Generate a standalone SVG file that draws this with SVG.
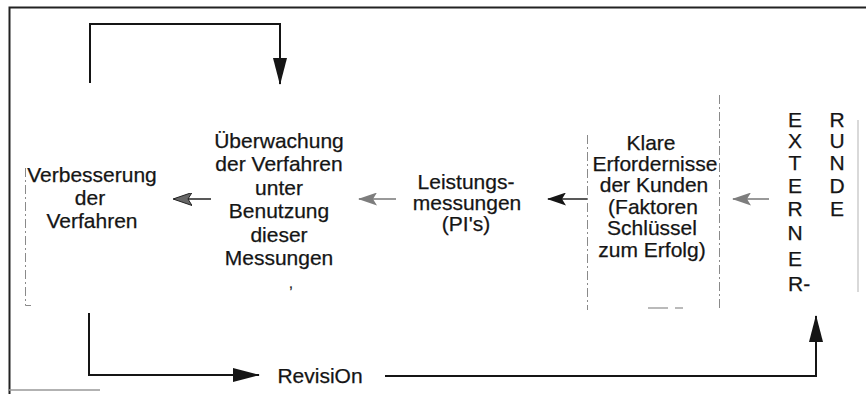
<svg xmlns="http://www.w3.org/2000/svg" width="866" height="396" viewBox="0 0 866 396">
<style>
.t{font-family:"Liberation Sans",Arial,Helvetica,sans-serif;font-size:21px;fill:#151515;stroke:#151515;stroke-width:0.25;text-anchor:middle}
.ln{fill:none;stroke:#151515;stroke-width:2}
.thin{fill:none;stroke:#222;stroke-width:1.6}
.gl{fill:none;stroke:#777;stroke-width:1.6}
.dash{fill:none;stroke:#8a8a8a;stroke-width:1;stroke-dasharray:9 3 2 3}
.frame{fill:none;stroke:#222;stroke-width:2}
</style>
<defs>
<marker id="big" markerUnits="userSpaceOnUse" viewBox="0 0 27 14" refX="26" refY="7" markerWidth="27" markerHeight="14" orient="auto"><path d="M0,0 L27,7 L0,14 Z" fill="#151515"/></marker>
<marker id="sb" markerUnits="userSpaceOnUse" viewBox="0 0 19 13" refX="18" refY="6.5" markerWidth="19" markerHeight="13" orient="auto"><path d="M0,0 L19,6.5 L0,13 L4,6.5 Z" fill="#151515"/></marker>
<marker id="sd" markerUnits="userSpaceOnUse" viewBox="0 0 19 13" refX="18" refY="6.5" markerWidth="19" markerHeight="13" orient="auto"><path d="M0,0 L19,6.5 L0,13 L4,6.5 Z" fill="#666" stroke="#222" stroke-width="1"/></marker>
<marker id="sg" markerUnits="userSpaceOnUse" viewBox="0 0 19 13" refX="18" refY="6.5" markerWidth="19" markerHeight="13" orient="auto"><path d="M0,0 L19,6.5 L0,13 L4,6.5 Z" fill="#7d7d7d"/></marker>
</defs>
<rect width="866" height="396" fill="#fff"/>
<g id="frame">
<path class="frame" d="M9.5,394 V7.5 H866"/>
<path d="M9,390 H100" stroke="#999" stroke-width="1.5" fill="none"/>
<path d="M858,120 V292" stroke="#ccc" stroke-width="1.5" fill="none"/>
</g>
<g id="connectors">
<path class="ln" d="M90,83 V24 H280 V84" marker-end="url(#big)"/>
<path class="ln" d="M89,313 V375 H259" marker-end="url(#big)"/>
<path class="ln" d="M385,376 H816 V316" marker-end="url(#big)"/>
<path class="thin" d="M211,199 H174" marker-end="url(#sd)"/>
<path class="gl" d="M396,199 H359" marker-end="url(#sg)"/>
<path class="thin" d="M587,199 H548" marker-end="url(#sb)"/>
<path class="gl" d="M769,199 H733" marker-end="url(#sg)"/>
</g>
<g id="node-verbesserung">
<path class="dash" d="M25.5,168 V305.5 H31"/>
<text class="t" x="92" y="182">Verbesserung</text>
<text class="t" x="90" y="205">der</text>
<text class="t" x="92" y="228">Verfahren</text>
</g>
<g id="node-ueberwachung">
<text class="t" x="279" y="148">Überwachung</text>
<text class="t" x="279" y="171">der Verfahren</text>
<text class="t" x="279" y="194.5">unter</text>
<text class="t" x="279" y="218">Benutzung</text>
<text class="t" x="279" y="241.5">dieser</text>
<text class="t" x="279" y="265">Messungen</text>
<text class="t" x="291" y="288" style="font-size:14px">,</text>
</g>
<g id="node-leistung">
<text class="t" x="466" y="189">Leistungs-</text>
<text class="t" x="467" y="210">messungen</text>
<text class="t" x="466" y="231">(PI's)</text>
</g>
<g id="node-klare">
<path class="dash" d="M587.5,135 V310"/>
<path class="dash" d="M719.5,95 V310"/>
<path d="M648,308 H668 M675,308 H683" stroke="#777" stroke-width="1.2" fill="none"/>
<text class="t" x="651" y="150">Klare</text>
<text class="t" x="655" y="171">Erfordernisse</text>
<text class="t" x="654" y="192">der Kunden</text>
<text class="t" x="653" y="213.5">(Faktoren</text>
<text class="t" x="652" y="235">Schlüssel</text>
<text class="t" x="652" y="257">zum Erfolg)</text>
</g>
<g id="node-externer-kunde">
<text class="t" x="795" y="127">E</text>
<text class="t" x="795" y="148">X</text>
<text class="t" x="795" y="170">T</text>
<text class="t" x="795" y="193">E</text>
<text class="t" x="795" y="216">R</text>
<text class="t" x="795" y="240">N</text>
<text class="t" x="795" y="266">E</text>
<text class="t" x="788" y="291" style="text-anchor:start">R-</text>
<text class="t" x="837" y="127">R</text>
<text class="t" x="837" y="148">U</text>
<text class="t" x="837" y="170">N</text>
<text class="t" x="837" y="193">D</text>
<text class="t" x="837" y="216">E</text>
</g>
<g id="label-revision">
<text class="t" x="320" y="383">RevisiOn</text>
</g>
</svg>
